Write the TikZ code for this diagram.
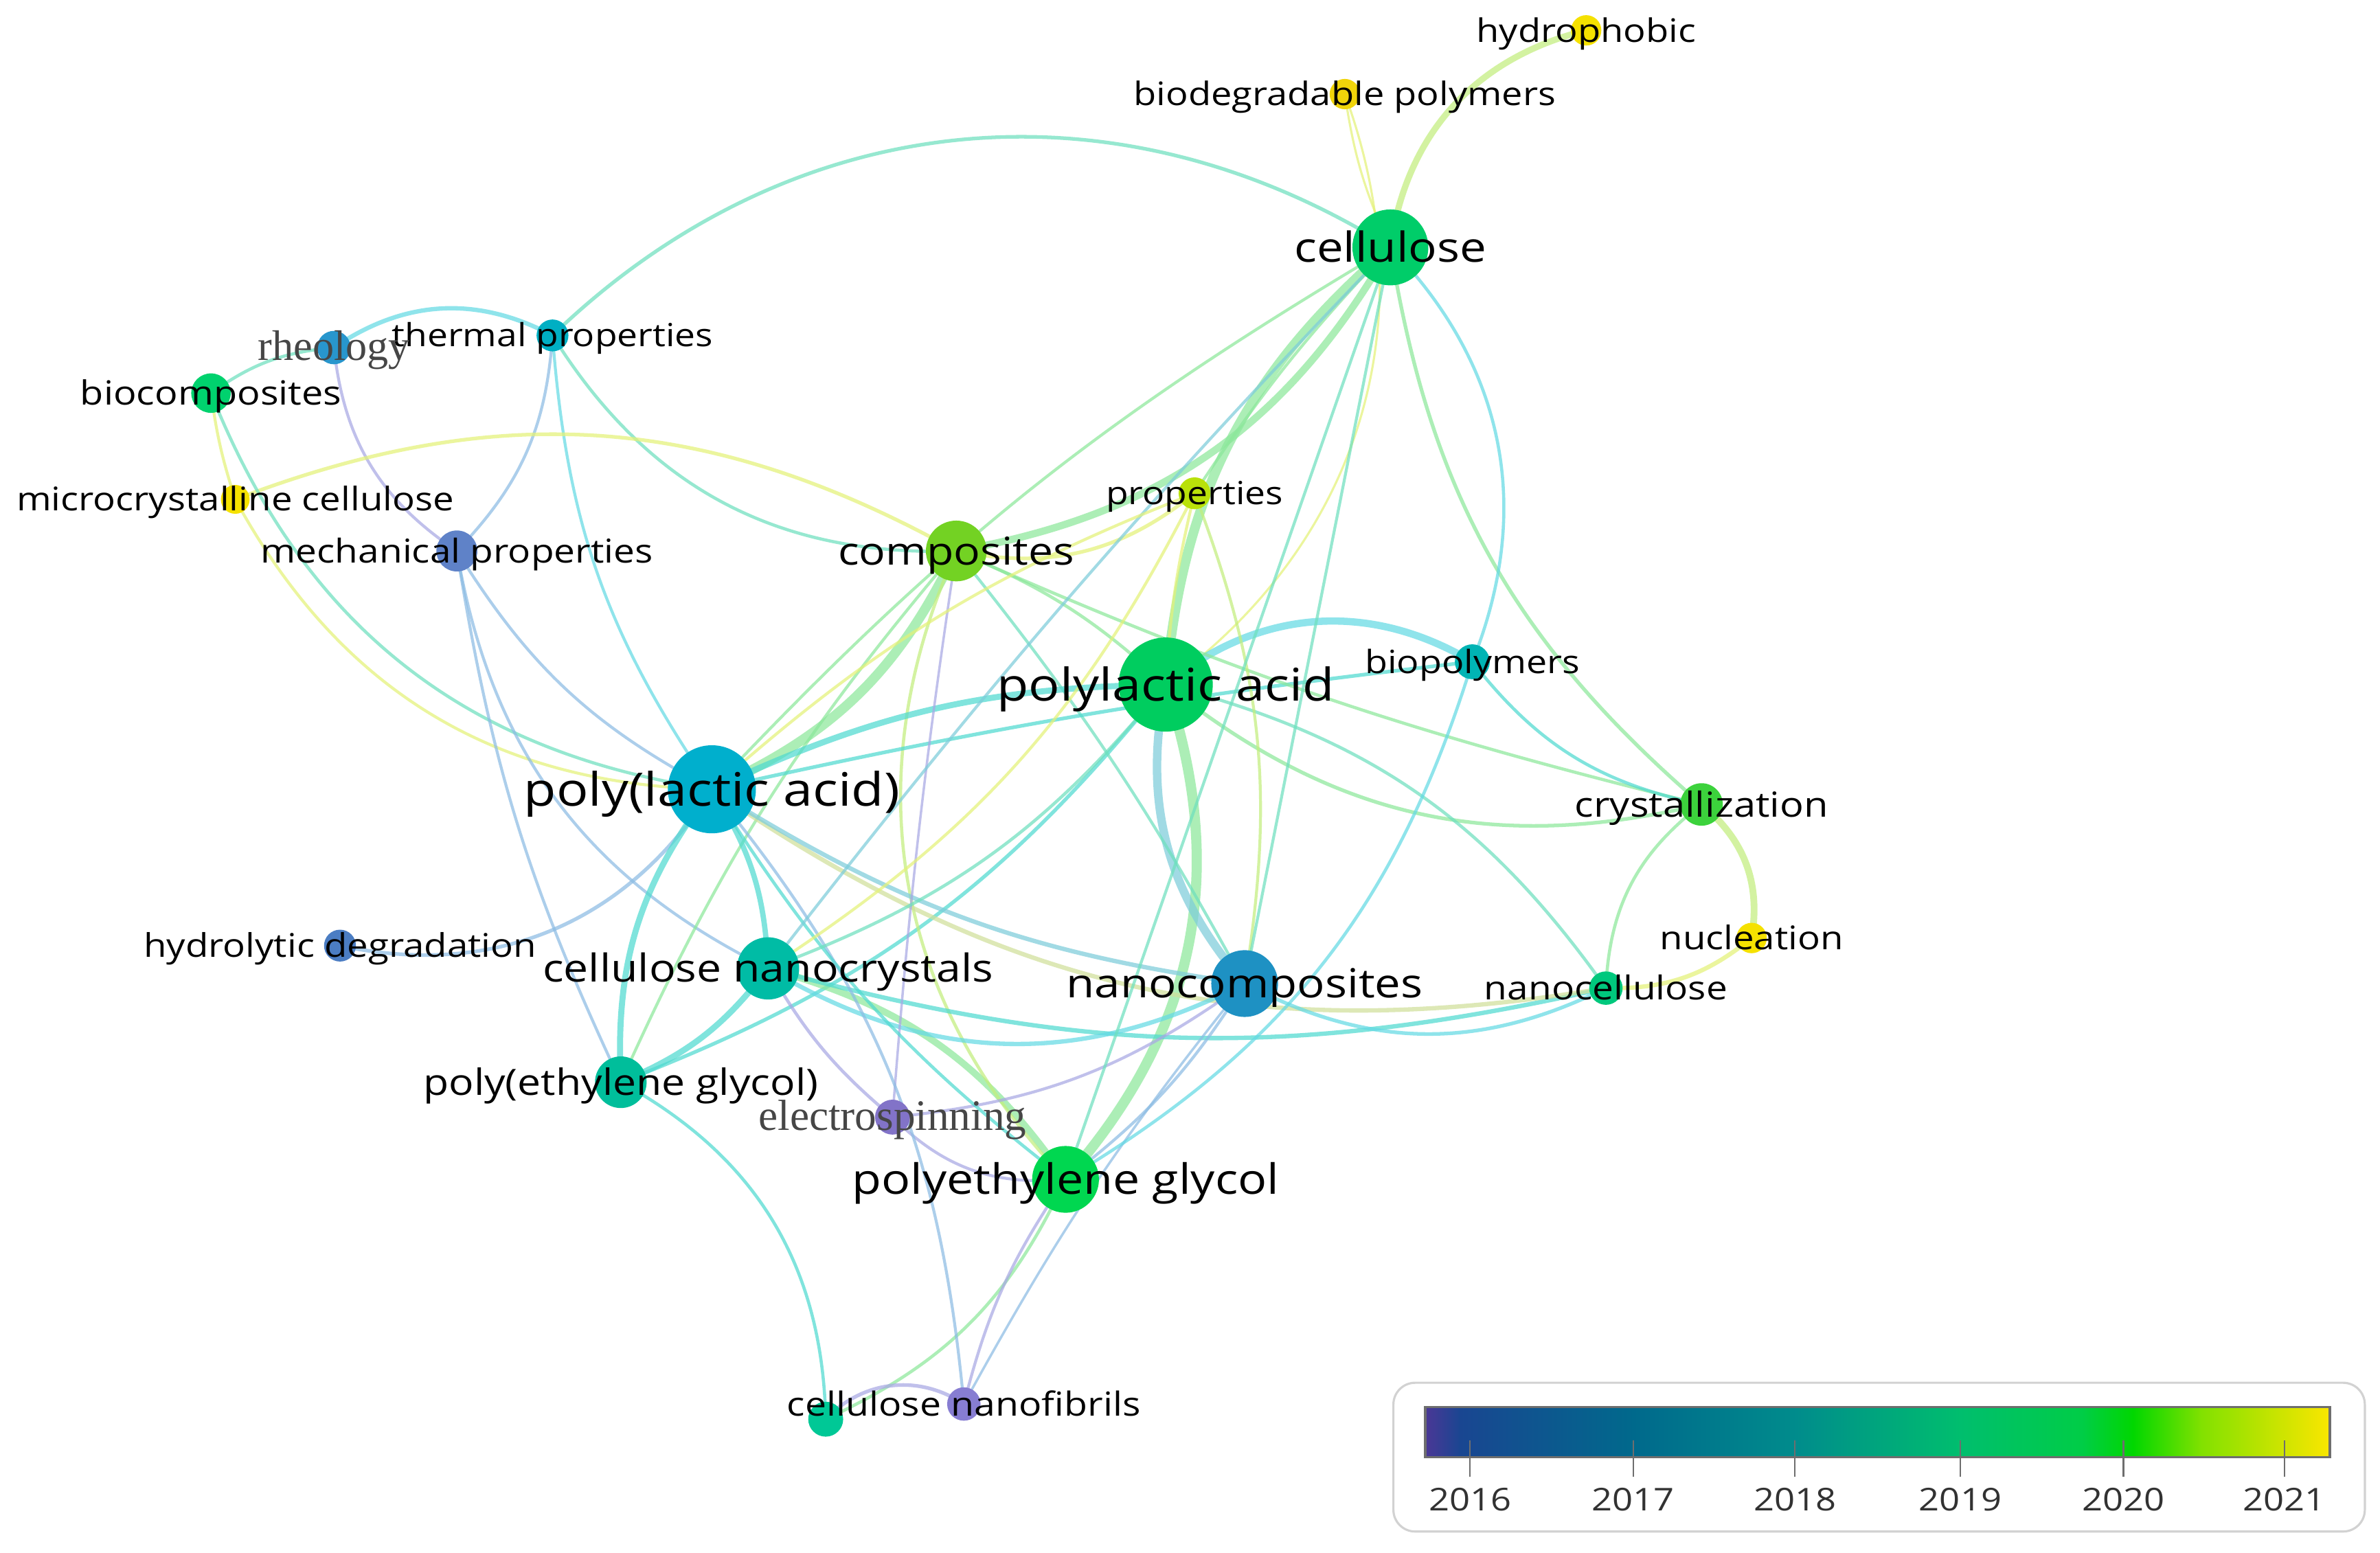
\documentclass[tikz,border=0pt]{standalone}
\usepackage{fontspec}
\setmainfont{Open Sans}
\newfontfamily\serifTNR{Liberation Serif}
\pgfdeclarelayer{bg}
\pgfdeclarelayer{edges}
\pgfsetlayers{bg,edges,main}
\newcommand\fsz[1]{\fontsize{#1}{#1}\selectfont}
% node colours
\definecolor{cYelA}{RGB}{245,225,0}
\definecolor{cYelB}{RGB}{240,212,10}
\definecolor{cCel}{RGB}{0,205,105}
\definecolor{cThp}{RGB}{0,175,195}
\definecolor{cRhe}{RGB}{40,150,205}
\definecolor{cBioc}{RGB}{0,210,110}
\definecolor{cMech}{RGB}{95,130,200}
\definecolor{cComp}{RGB}{115,210,35}
\definecolor{cProp}{RGB}{185,225,10}
\definecolor{cPla}{RGB}{0,205,95}
\definecolor{cBiop}{RGB}{0,180,180}
\definecolor{cPlla}{RGB}{0,175,205}
\definecolor{cCry}{RGB}{60,210,60}
\definecolor{cHdeg}{RGB}{75,125,195}
\definecolor{cCnc}{RGB}{0,188,165}
\definecolor{cNanoc}{RGB}{30,145,195}
\definecolor{cNcel}{RGB}{0,200,125}
\definecolor{cPegp}{RGB}{0,190,155}
\definecolor{cElec}{RGB}{130,115,200}
\definecolor{cPeg}{RGB}{0,215,80}
\definecolor{cCnfA}{RGB}{0,200,150}
\definecolor{cCnf}{RGB}{135,125,210}
% edge colours
\definecolor{eY}{RGB}{228,242,120}
\definecolor{eYG}{RGB}{195,238,125}
\definecolor{eG}{RGB}{140,232,155}
\definecolor{eTG}{RGB}{110,224,190}
\definecolor{eT}{RGB}{80,218,208}
\definecolor{eC}{RGB}{100,218,228}
\definecolor{eB}{RGB}{140,188,228}
\definecolor{eP}{RGB}{168,168,228}
\definecolor{eTan}{RGB}{208,224,155}
\definecolor{eTB}{RGB}{125,205,218}
% colour bar
\definecolor{cbA}{RGB}{75,55,150}
\definecolor{cbB}{RGB}{25,70,145}
\definecolor{cbC}{RGB}{0,105,140}
\definecolor{cbD}{RGB}{0,140,140}
\definecolor{cbE}{RGB}{0,190,110}
\definecolor{cbF}{RGB}{0,205,70}
\definecolor{cbG}{RGB}{0,215,0}
\definecolor{cbH}{RGB}{130,225,0}
\definecolor{cbI}{RGB}{250,230,0}
\definecolor{serifgray}{RGB}{70,70,70}
\definecolor{yeargray}{RGB}{50,50,50}
\definecolor{tickgray}{RGB}{110,110,110}
\definecolor{boxgray}{RGB}{210,210,210}
\newcommand\E[3]{\draw[edge,#1] (#2.center) to (#3.center);}
\newcommand\lab[4]{\node[lab,font=\fsz{#3}] (#1-l) at ([yshift={-0.357*#3pt}]#1.center) {#4};}
\newcommand\slab[4]{\node[anchor=base,inner sep=0pt,text=serifgray,font=\serifTNR\fsz{#3}] (#1-l) at ([yshift={-0.30*#3pt}]#1.center) {#4};}
\begin{document}
\begin{tikzpicture}[x=0.022098cm, y=0.022098cm,
  kw/.style={circle, inner sep=0pt, draw=none, minimum size={#1*0.044196cm}},
  lab/.style={anchor=base, inner sep=0pt, outer sep=0pt, xscale=1.15, transform shape, text=black},
  edge/.style={line cap=round, draw opacity=0.72},
  w/.style={line width=#1pt},
  year/.style={inner sep=0pt, xscale=1.15, transform shape, text=yeargray, font=\fsz{13}}]
\begin{pgfonlayer}{bg}
\fill[white] (0,0) rectangle (1568,-1023);
\end{pgfonlayer}
\useasboundingbox (0,0) rectangle (1568,-1023);

% ---------- nodes ----------
\node[kw=10, fill=cYelA] (hyd) at (1045,-20) {};
\node[kw=10, fill=cYelB] (bdp) at (886,-62) {};
\node[kw=25, fill=cCel] (cel) at (916,-163) {};
\node[kw=10.5, fill=cThp] (thp) at (364,-221) {};
\node[kw=11, fill=cRhe] (rhe) at (220,-229) {};
\node[kw=13, fill=cBioc] (bioc) at (139,-259) {};
\node[kw=9.5, fill=cYelA] (mcc) at (155,-329) {};
\node[kw=13.5, fill=cMech] (mech) at (301,-363) {};
\node[kw=20, fill=cComp] (comp) at (630,-363) {};
\node[kw=10.5, fill=cProp] (prop) at (787,-325) {};
\node[kw=31, fill=cPla] (pla) at (768,-451) {};
\node[kw=11.5, fill=cBiop] (biop) at (970,-436) {};
\node[kw=29, fill=cPlla] (plla) at (469,-520) {};
\node[kw=14, fill=cCry] (cry) at (1121,-530) {};
\node[kw=10, fill=cYelA] (nuc) at (1154,-618) {};
\node[kw=10.5, fill=cHdeg] (hdeg) at (224,-623) {};
\node[kw=20.5, fill=cCnc] (cnc) at (506,-638) {};
\node[kw=22, fill=cNanoc] (nanoc) at (820,-648) {};
\node[kw=11, fill=cNcel] (nanocel) at (1058,-651) {};
\node[kw=17, fill=cPegp] (pegp) at (409,-713) {};
\node[kw=11.5, fill=cElec] (elec) at (588,-736) {};
\node[kw=22, fill=cPeg] (peg) at (702,-777) {};
\node[kw=11.5, fill=cCnfA] (cnfA) at (544,-935) {};
\node[kw=11, fill=cCnf] (cnf) at (635,-925) {};

% ---------- edges ----------
\begin{pgfonlayer}{edges}
\E{bend left=34, draw=eYG, w=2.6}{cel}{hyd}
\E{bend right=8, draw=eY, w=0.9}{bdp}{cel}
\E{bend left=37, draw=eY, w=0.9}{bdp}{pla}
\E{bend right=38, draw=eTG, w=1.5}{cel}{thp}
\E{bend left=15, draw=eTG, w=1.3}{bioc}{rhe}
\E{bend left=31, draw=eC, w=1.8}{rhe}{thp}
\E{bend right=25, draw=eP, w=1.2}{rhe}{mech}
\E{bend left=20, draw=eB, w=1.2}{thp}{mech}
\E{bend right=15, draw=eC, w=1.2}{thp}{plla}
\E{bend right=30, draw=eTG, w=1.3}{thp}{comp}
\E{bend left=25, draw=eY, w=1.5}{mcc}{comp}
\E{bend right=30, draw=eY, w=1.2}{mcc}{plla}
\E{bend right=5, draw=eY, w=1.2}{bioc}{mcc}
\E{bend right=30, draw=eTG, w=1.3}{bioc}{plla}
\E{bend right=15, draw=eB, w=1.2}{mech}{plla}
\E{bend right=8, draw=eB, w=1.2}{mech}{pegp}
\E{bend right=27, draw=eB, w=1.2}{mech}{cnc}
\E{bend right=35, draw=eB, w=1.5}{hdeg}{plla}
\E{bend left=20, draw=eT, w=2.5}{pegp}{plla}
\E{bend left=8, draw=eG, w=1.2}{pegp}{comp}
\E{bend right=15, draw=eT, w=1.5}{pegp}{pla}
\E{bend left=15, draw=eT, w=2.2}{plla}{cnc}
\E{bend left=15, draw=eT, w=2.5}{cnc}{pegp}
\E{bend left=20, draw=eG, w=2.8}{cnc}{peg}
\E{bend left=30, draw=eG, w=4.2}{pla}{peg}
\E{bend right=26, draw=eTB, w=3.5}{pla}{nanoc}
\E{bend right=22, draw=eG, w=4}{cel}{pla}
\E{bend left=25, draw=eG, w=3}{cel}{comp}
\E{bend right=25, draw=eY, w=1.5}{comp}{prop}
\E{bend right=5, draw=eG, w=1.2}{cel}{prop}
\E{bend right=8, draw=eG, w=1.2}{cel}{plla}
\E{bend left=10, draw=eG, w=1.3}{comp}{pla}
\E{bend left=5, draw=eTG, w=1.2}{comp}{nanoc}
\E{bend left=20, draw=eG, w=4}{comp}{plla}
\E{bend right=34, draw=eYG, w=1.3}{comp}{peg}
\E{bend left=12, draw=eT, w=2.5}{plla}{pla}
\E{bend left=3, draw=eT, w=1.5}{plla}{biop}
\E{bend left=35, draw=eC, w=3}{pla}{biop}
\E{bend right=26, draw=eG, w=1.5}{pla}{cry}
\E{bend right=5, draw=eG, w=1.3}{comp}{cry}
\E{bend right=20, draw=eT, w=1.3}{biop}{cry}
\E{bend right=20, draw=eG, w=1.5}{cel}{cry}
\E{bend left=20, draw=eTG, w=1.3}{pla}{nanocel}
\E{bend right=25, draw=eG, w=1.3}{cry}{nanocel}
\E{bend left=30, draw=eYG, w=2.8}{cry}{nuc}
\E{bend right=20, draw=eY, w=1.8}{nanocel}{nuc}
\E{bend left=14, draw=eT, w=1.8}{nanocel}{cnc}
\E{bend left=22, draw=eTan, w=1.8}{nanocel}{plla}
\E{bend right=27, draw=eC, w=1.5}{nanoc}{nanocel}
\E{bend right=29, draw=eC, w=1.8}{cnc}{nanoc}
\E{bend right=12, draw=eTB, w=1.8}{plla}{nanoc}
\E{bend left=10, draw=eB, w=1.2}{nanoc}{peg}
\E{bend left=15, draw=eP, w=1.2}{nanoc}{elec}
\E{bend right=5, draw=eB, w=1.0}{nanoc}{cnf}
\E{bend left=20, draw=eG, w=1.3}{peg}{cnfA}
\E{bend left=10, draw=eP, w=1.2}{cnf}{peg}
\E{bend left=30, draw=eT, w=1.3}{pegp}{cnfA}
\E{bend left=40, draw=eP, w=1.5}{cnfA}{cnf}
\E{bend right=10, draw=eP, w=1.3}{cnc}{elec}
\E{bend right=25, draw=eP, w=1.2}{elec}{peg}
\E{bend left=2, draw=eP, w=1.0}{elec}{comp}
\E{bend left=17, draw=eB, w=1.2}{plla}{cnf}
\E{bend right=10, draw=eT, w=1.3}{plla}{peg}
\E{bend left=15, draw=eTG, w=1.3}{pla}{cnc}
\E{bend left=15, draw=eYG, w=1.2}{prop}{nanoc}
\E{bend left=15, draw=eY, w=1.2}{prop}{cnc}
\E{bend left=33, draw=eC, w=1.3}{cel}{biop}
\E{bend left=21, draw=eC, w=1.3}{biop}{peg}
\E{draw=eTG, w=1.2}{cel}{peg}
\E{draw=eTG, w=1.2}{cel}{nanoc}
\E{bend right=3, draw=eTB, w=1.2}{cel}{cnc}
\E{bend right=5, draw=eY, w=1.2}{prop}{pla}
\E{bend right=10, draw=eY, w=1.2}{prop}{plla}
\end{pgfonlayer}

% ---------- labels ----------
\lab{hyd}{}{13.4}{hydrophobic}
\lab{bdp}{}{13.4}{biodegradable polymers}
\lab{cel}{}{17.1}{cellulose}
\lab{thp}{}{13.2}{thermal properties}
\slab{rhe}{}{17.7}{rheology}
\lab{bioc}{}{13.8}{biocomposites}
\lab{mcc}{}{13.5}{microcrystalline cellulose}
\lab{mech}{}{13.6}{mechanical properties}
\lab{comp}{}{15.9}{composites}
\lab{prop}{}{13.2}{properties}
\lab{pla}{}{18.7}{polylactic acid}
\lab{biop}{}{13.3}{biopolymers}
\lab{plla}{}{19.1}{poly(lactic acid)}
\lab{cry}{}{14.3}{crystallization}
\lab{nuc}{}{13.5}{nucleation}
\lab{hdeg}{}{13.5}{hydrolytic degradation}
\lab{cnc}{}{15.9}{cellulose nanocrystals}
\lab{nanoc}{}{16.6}{nanocomposites}
\lab{nanocel}{}{13.6}{nanocellulose}
\lab{pegp}{}{15.0}{poly(ethylene glycol)}
\slab{elec}{}{18}{electrospinning}
\lab{peg}{}{17.3}{polyethylene glycol}
\lab{cnf}{}{13.7}{cellulose nanofibrils}

% ---------- colour bar ----------
\draw[rounded corners=9pt, draw=boxgray, line width=0.9pt] (918,-911) rectangle (1558,-1009);
\shade[left color=cbA, right color=cbB] (939,-927) rectangle (962.6,-960);
\shade[left color=cbB, right color=cbC] (962,-927) rectangle (1076.6,-960);
\shade[left color=cbC, right color=cbD] (1076,-927) rectangle (1183.6,-960);
\shade[left color=cbD, right color=cbE] (1183,-927) rectangle (1291.6,-960);
\shade[left color=cbE, right color=cbF] (1291,-927) rectangle (1372.6,-960);
\shade[left color=cbF, right color=cbG] (1372,-927) rectangle (1405.6,-960);
\shade[left color=cbG, right color=cbH] (1405,-927) rectangle (1450.6,-960);
\shade[left color=cbH, right color=cbI] (1450,-927) rectangle (1535,-960);
\draw[tickgray, line width=1.1pt] (939,-927) rectangle (1535,-960);
\foreach \tx/\yr in {968.5/2016, 1076/2017, 1182.5/2018, 1291.5/2019, 1399/2020, 1505/2021}{
  \draw[tickgray, line width=0.7pt] (\tx,-949) -- (\tx,-973);
  \node[year] (y\yr) at (\tx,-988) {\yr};
}
\end{tikzpicture}
\end{document}
